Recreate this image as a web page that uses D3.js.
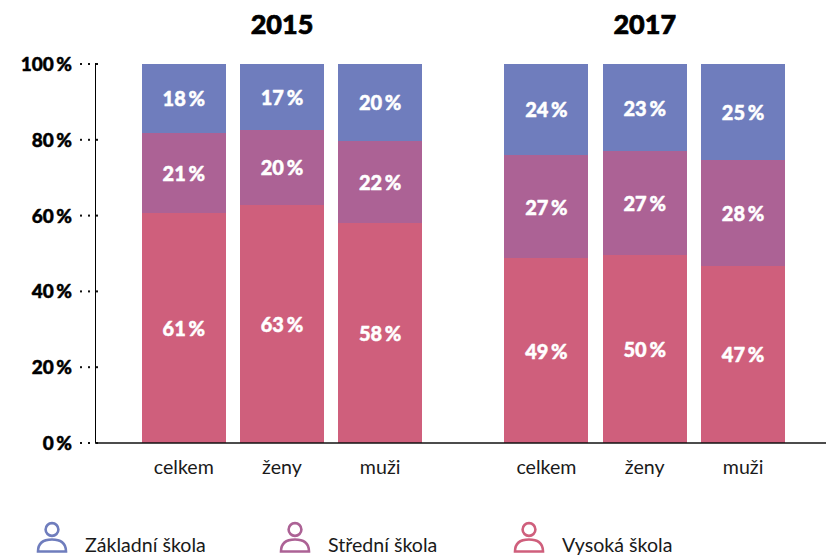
<!DOCTYPE html>
<html><head><meta charset="utf-8">
<script src="https://cdn.jsdelivr.net/npm/d3@7/dist/d3.min.js"></script>
<style>html,body{margin:0;padding:0;background:#fff}svg{display:block}
text{font-family:Lato,"Open Sans",sans-serif}</style></head><body>
<svg id="c" width="826" height="556"></svg>
<script>
const years = ["2015","2017"];
const categories = ["celkem","ženy","muži"];
const seriesNames = ["Vysoká škola","Střední škola","Základní škola"];
const colors = ["#cf5f7c","#ac6295","#6f7dbd"];
const vysoka2015 = [60.7,62.8,58.0];
const stredni2015 = [21.1,19.9,21.7];
const zakladni2015 = [18.2,17.3,20.3];
const vysoka2017 = [48.8,49.6,46.8];
const stredni2017 = [27.2,27.4,28.0];
const zakladni2017 = [24.0,23.0,25.2];
const ticks = [0,20,40,60,80,100];
const legendOrder = ["Základní škola","Střední škola","Vysoká škola"];

const data = {"2015":[vysoka2015,stredni2015,zakladni2015],"2017":[vysoka2017,stredni2017,zakladni2017]};
const svg = d3.select("#c");
const y = d3.scaleLinear().domain([0,100]).range([443,64]);
const groupRange = {"2015":[135,429],"2017":[497.5,792]};
const heavy = sel => sel.attr("stroke-width",0.45).attr("stroke-linejoin","round");

// axes
svg.append("line").attr("x1",95.5).attr("x2",95.5).attr("y1",63).attr("y2",443).attr("stroke","#000").attr("stroke-width",1);
ticks.forEach(t=>{
  const g = svg.append("g").attr("transform",`translate(0,${y(t)})`);
  g.append("text").attr("x",72).attr("y",7).attr("text-anchor","end")
    .attr("font-size",19).attr("font-weight",900).attr("fill","#000").attr("stroke","#000").call(heavy)
    .attr("word-spacing",-2).text(t+" %");
  [80,88,96].forEach(x=>g.append("rect").attr("x",x).attr("y",-1).attr("width",2).attr("height",2).attr("fill","#111"));
});

years.forEach(yr=>{
  const x = d3.scaleBand().domain(categories).range(groupRange[yr]).paddingInner(0.145).paddingOuter(0.07);
  const cx = d=>x(d)+x.bandwidth()/2;
  svg.append("text").attr("x",cx("ženy")).attr("y",34).attr("text-anchor","middle")
    .attr("font-size",27).attr("font-weight",900).attr("fill","#000").attr("stroke","#000").attr("stroke-width",0.7).text(yr);
  categories.forEach((c,i)=>{
    let base = 0;
    seriesNames.forEach((s,k)=>{
      const v = data[yr][k][i];
      svg.append("rect").attr("x",x(c)).attr("width",x.bandwidth())
        .attr("y",y(base+v)).attr("height",y(base)-y(base+v)).attr("fill",colors[k]).attr("shape-rendering","crispEdges");
      svg.append("text").attr("x",cx(c)).attr("y",y(base+v/2)+8).attr("text-anchor","middle")
        .attr("font-size",20).attr("font-weight",900).attr("fill","#fff").attr("stroke","#fff").call(heavy)
        .attr("word-spacing",-2).text(Math.round(v)+" %");
      base += v;
    });
    svg.append("text").attr("x",cx(c)).attr("y",474).attr("text-anchor","middle")
      .attr("font-size",19.6).attr("fill","#1a1a1a").text(c);
  });
});
svg.append("line").attr("x1",95).attr("x2",826).attr("y1",443).attr("y2",443).attr("stroke","#111").attr("stroke-width",1.4);

// legend
const lx = {"Základní škola":52,"Střední škola":295,"Vysoká škola":529};
legendOrder.forEach(n=>{
  const col = colors[seriesNames.indexOf(n)];
  const g = svg.append("g").attr("transform",`translate(${lx[n]},0)`);
  g.append("circle").attr("cy",529.5).attr("r",6.4).attr("fill","none").attr("stroke",col).attr("stroke-width",2.6);
  g.append("path").attr("d","M-14,551.5 C-14,542 -8,539.5 0,539.5 C8,539.5 14,542 14,551.5 Z").attr("fill","none").attr("stroke",col).attr("stroke-width",2.6);
  g.append("text").attr("x",33).attr("y",552).attr("font-size",19.6).attr("fill","#1a1a1a").text(n);
});
</script></body></html>
